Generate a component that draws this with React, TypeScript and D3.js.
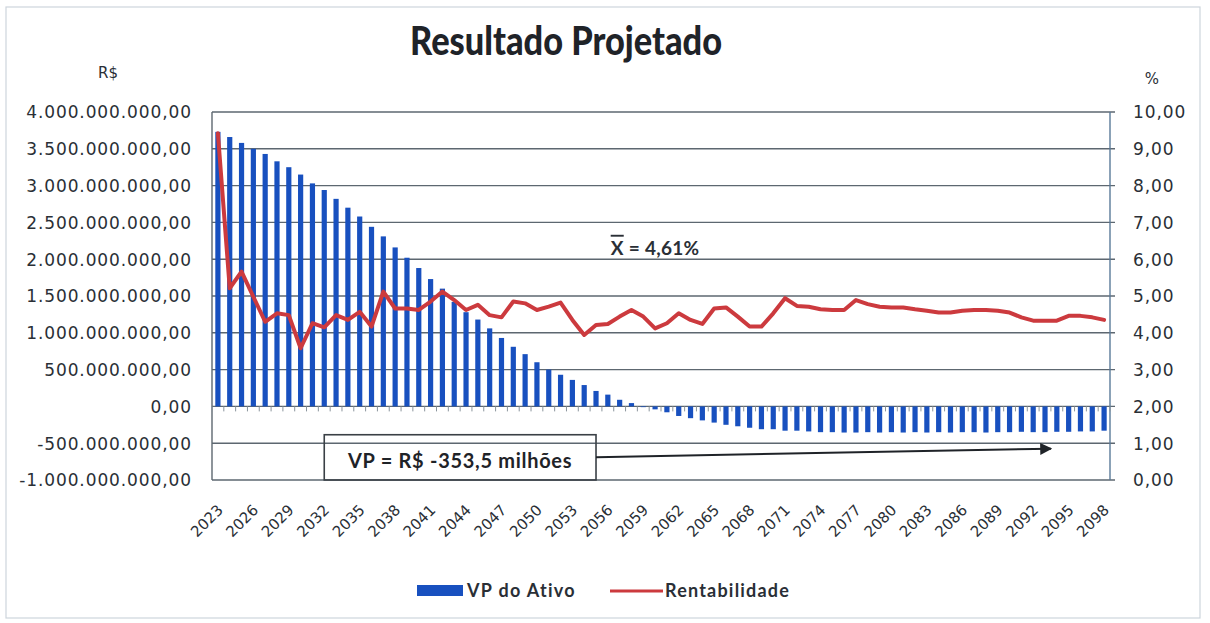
import * as d3 from 'd3'
import { useEffect, useRef } from 'react'

// categorias: anos da projeção
const years = d3.range(2023, 2099)

// VP do Ativo, em milhões de R$
const vpAtivoMilhoes = [
  3730, 3660, 3580, 3500, 3430, 3330, 3250, 3150, 3030, 2940,
  2820, 2700, 2580, 2440, 2310, 2160, 2020, 1880, 1730, 1600,
  1420, 1280, 1180, 1060, 930, 810, 710, 600, 500, 430,
  360, 290, 210, 160, 90, 45, -10, -40, -80, -130,
  -160, -190, -220, -250, -270, -290, -310, -310, -330, -330,
  -340, -350, -350, -355, -355, -350, -355, -350, -355, -350,
  -355, -350, -355, -350, -350, -355, -350, -350, -345, -350,
  -350, -345, -345, -340, -340, -330,
]

// Rentabilidade (%)
const rentabilidade = [
  9.42, 5.21, 5.66, 4.98, 4.3, 4.53, 4.48, 3.58, 4.26, 4.15,
  4.48, 4.35, 4.57, 4.17, 5.12, 4.66, 4.66, 4.62, 4.85, 5.12,
  4.89, 4.62, 4.76, 4.48, 4.42, 4.85, 4.8, 4.62, 4.71, 4.82,
  4.35, 3.94, 4.21, 4.24, 4.44, 4.62, 4.44, 4.12, 4.26, 4.53,
  4.35, 4.24, 4.66, 4.69, 4.44, 4.17, 4.17, 4.53, 4.94, 4.73,
  4.71, 4.64, 4.62, 4.62, 4.89, 4.78, 4.71, 4.69, 4.69, 4.64,
  4.6, 4.55, 4.55, 4.6, 4.62, 4.62, 4.6, 4.55, 4.42, 4.33,
  4.33, 4.33, 4.46, 4.46, 4.42, 4.35,
]

const leftTicksMilhoes = [-1000, -500, 0, 500, 1000, 1500, 2000, 2500, 3000, 3500, 4000]
const rightTicks = [0, 1, 2, 3, 4, 5, 6, 7, 8, 9, 10]
const labelYears = years.filter((_, i) => i % 3 === 0)

const title = 'Resultado Projetado'
const mediaLabel = '4,61%'
const vpLabel = 'VP = R$ -353,5 milhões'
const seriesNames = ['VP do Ativo', 'Rentabilidade']

const BLUE = '#1850bf'
const RED = '#cc3a3e'
const GRID = '#5d6770'
const TEXT = '#2a2f36'

const br = d3.formatLocale({ decimal: ',', thousands: '.', grouping: [3], currency: ['R$', ''], minus: '-' })
const fmt2 = br.format(',.2f')

export default function App() {
  const svgRef = useRef<SVGSVGElement>(null)

  useEffect(() => {
    if (!svgRef.current) return
    const svg = d3.select(svgRef.current)
    svg.selectAll('*').remove()

    const W = 1210
    const H = 623
    const plot = { left: 212, right: 1110, top: 112, bottom: 480 }

    const x = d3
      .scaleBand<number>()
      .domain(years)
      .range([plot.left, plot.right])
      .paddingInner(0.56)
      .paddingOuter(0.28)
    const step = x.step()
    const cx = (yr: number) => (x(yr) ?? 0) + x.bandwidth() / 2
    const yL = d3.scaleLinear().domain([-1e9, 4e9]).range([plot.bottom, plot.top])
    const yR = d3.scaleLinear().domain([0, 10]).range([plot.bottom, plot.top])

    svg.attr('viewBox', `0 0 ${W} ${H}`)

    svg.append('rect').attr('width', W).attr('height', H).attr('fill', '#ffffff')
    svg
      .append('rect')
      .attr('x', 6)
      .attr('y', 7)
      .attr('width', 1194)
      .attr('height', 611)
      .attr('fill', 'none')
      .attr('stroke', '#cdd5dc')
      .attr('stroke-width', 1.2)

    // título
    svg
      .append('text')
      .attr('x', 566)
      .attr('y', 55)
      .attr('text-anchor', 'middle')
      .attr('font-family', 'Lato, sans-serif')
      .attr('font-weight', 900)
      .attr('font-size', 39)
      .attr('fill', '#1f2328')
      .attr('textLength', 312)
      .attr('lengthAdjust', 'spacingAndGlyphs')
      .text(title)

    // grades horizontais
    svg
      .append('g')
      .selectAll('line')
      .data(leftTicksMilhoes)
      .join('line')
      .attr('x1', plot.left)
      .attr('x2', plot.right + 5)
      .attr('y1', (d) => yL(d * 1e6))
      .attr('y2', (d) => yL(d * 1e6))
      .attr('stroke', GRID)
      .attr('stroke-width', 1.4)

    // bordas do plot
    svg
      .append('line')
      .attr('x1', plot.left)
      .attr('x2', plot.left)
      .attr('y1', plot.top)
      .attr('y2', plot.bottom)
      .attr('stroke', GRID)
      .attr('stroke-width', 1.4)
    svg
      .append('line')
      .attr('x1', plot.right)
      .attr('x2', plot.right)
      .attr('y1', plot.top)
      .attr('y2', plot.bottom)
      .attr('stroke', '#5a7a99')
      .attr('stroke-width', 1.4)

    // barras
    svg
      .append('g')
      .selectAll('rect')
      .data(years)
      .join('rect')
      .attr('x', (d) => x(d) ?? 0)
      .attr('width', x.bandwidth())
      .attr('y', (_, i) => Math.min(yL(vpAtivoMilhoes[i] * 1e6), yL(0)))
      .attr('height', (_, i) => Math.abs(yL(vpAtivoMilhoes[i] * 1e6) - yL(0)))
      .attr('fill', BLUE)

    // marcas do eixo de categorias (na linha do zero)
    svg
      .append('g')
      .selectAll('line')
      .data(d3.range(years.length + 1))
      .join('line')
      .attr('x1', (i) => plot.left + i * step)
      .attr('x2', (i) => plot.left + i * step)
      .attr('y1', yL(0))
      .attr('y2', yL(0) + 5)
      .attr('stroke', '#8a949c')
      .attr('stroke-width', 1)

    // linha de rentabilidade
    const line = d3
      .line<number>()
      .x((_, i) => cx(years[i]))
      .y((d) => yR(d))
    svg
      .append('path')
      .datum(rentabilidade)
      .attr('fill', 'none')
      .attr('stroke', RED)
      .attr('stroke-width', 4)
      .attr('stroke-linejoin', 'round')
      .attr('stroke-linecap', 'round')
      .attr('d', line)

    // rótulos eixo esquerdo
    svg
      .append('g')
      .selectAll('text')
      .data(leftTicksMilhoes)
      .join('text')
      .attr('x', 192)
      .attr('y', (d) => yL(d * 1e6))
      .attr('dy', '0.38em')
      .attr('text-anchor', 'end')
      .attr('font-family', '"DejaVu Sans", sans-serif')
      .attr('font-size', 17)
      .attr('letter-spacing', 0.9)
      .attr('fill', TEXT)
      .text((d) => fmt2(d * 1e6))

    // rótulos eixo direito
    svg
      .append('g')
      .selectAll('text')
      .data(rightTicks)
      .join('text')
      .attr('x', 1133)
      .attr('y', (d) => yR(d))
      .attr('dy', '0.38em')
      .attr('font-family', '"DejaVu Sans", sans-serif')
      .attr('font-size', 17)
      .attr('letter-spacing', 0.9)
      .attr('fill', TEXT)
      .text((d) => fmt2(d))

    svg
      .append('text')
      .attr('x', 108)
      .attr('y', 78)
      .attr('text-anchor', 'middle')
      .attr('font-family', '"DejaVu Sans", sans-serif')
      .attr('font-size', 15)
      .attr('fill', TEXT)
      .text('R$')
    svg
      .append('text')
      .attr('x', 1152)
      .attr('y', 84)
      .attr('text-anchor', 'middle')
      .attr('font-family', '"DejaVu Sans", sans-serif')
      .attr('font-size', 15)
      .attr('fill', TEXT)
      .text('%')

    // rótulos dos anos
    svg
      .append('g')
      .selectAll('text')
      .data(labelYears)
      .join('text')
      .attr('transform', (d) => `translate(${cx(d) + 6},${plot.bottom + 31}) rotate(-45)`)
      .attr('text-anchor', 'end')
      .attr('font-family', '"DejaVu Sans", sans-serif')
      .attr('font-size', 15)
      .attr('fill', TEXT)
      .text((d) => String(d))

    // anotação da média
    const media = svg
      .append('text')
      .attr('x', cx(2060))
      .attr('y', yR(6.12))
      .attr('text-anchor', 'middle')
      .attr('font-family', 'Lato, sans-serif')
      .attr('font-weight', 700)
      .attr('font-size', 19)
      .attr('letter-spacing', 0.3)
      .attr('fill', TEXT)
    media.append('tspan').attr('text-decoration', 'overline').text('X')
    media.append('tspan').text(` = ${mediaLabel}`)

    // caixa VP
    const boxX0 = cx(2032)
    const boxX1 = cx(2055)
    const boxTop = yR(1.23)
    svg
      .append('rect')
      .attr('x', boxX0)
      .attr('y', boxTop)
      .attr('width', boxX1 - boxX0)
      .attr('height', plot.bottom - boxTop)
      .attr('fill', 'none')
      .attr('stroke', '#3a4046')
      .attr('stroke-width', 1.6)
    svg
      .append('text')
      .attr('x', (boxX0 + boxX1) / 2)
      .attr('y', yR(0.32))
      .attr('text-anchor', 'middle')
      .attr('font-family', 'Lato, sans-serif')
      .attr('font-weight', 700)
      .attr('font-size', 20)
      .attr('letter-spacing', 0.7)
      .attr('fill', '#1f2328')
      .text(vpLabel)

    // seta
    svg
      .append('defs')
      .append('marker')
      .attr('id', 'seta')
      .attr('viewBox', '0 0 10 10')
      .attr('refX', 9)
      .attr('refY', 5)
      .attr('markerWidth', 6)
      .attr('markerHeight', 6)
      .attr('orient', 'auto')
      .append('path')
      .attr('d', 'M0,0 L10,5 L0,10 Z')
      .attr('fill', '#1f2328')
    svg
      .append('line')
      .attr('x1', boxX1)
      .attr('y1', yR(0.62))
      .attr('x2', cx(2093) + 6)
      .attr('y2', yR(0.85))
      .attr('stroke', '#1f2328')
      .attr('stroke-width', 2)
      .attr('marker-end', 'url(#seta)')

    // legenda
    const lg = svg.append('g').attr('font-family', 'Lato, sans-serif').attr('font-weight', 700).attr('font-size', 18)
    lg.append('rect').attr('x', 417).attr('y', 585).attr('width', 46).attr('height', 11).attr('fill', BLUE)
    lg.append('text').attr('x', 467).attr('y', 597).attr('fill', TEXT).attr('letter-spacing', 1.3).text(seriesNames[0])
    lg.append('line').attr('x1', 610).attr('x2', 663).attr('y1', 591).attr('y2', 591).attr('stroke', RED).attr('stroke-width', 3)
    lg.append('text').attr('x', 665).attr('y', 597).attr('fill', TEXT).attr('letter-spacing', 1.2).text(seriesNames[1])
  }, [])

  return (
    <svg
      ref={svgRef}
      width={1210}
      height={623}
      style={{ position: 'absolute', left: 0, top: 0, display: 'block' }}
      role="img"
    />
  )
}
